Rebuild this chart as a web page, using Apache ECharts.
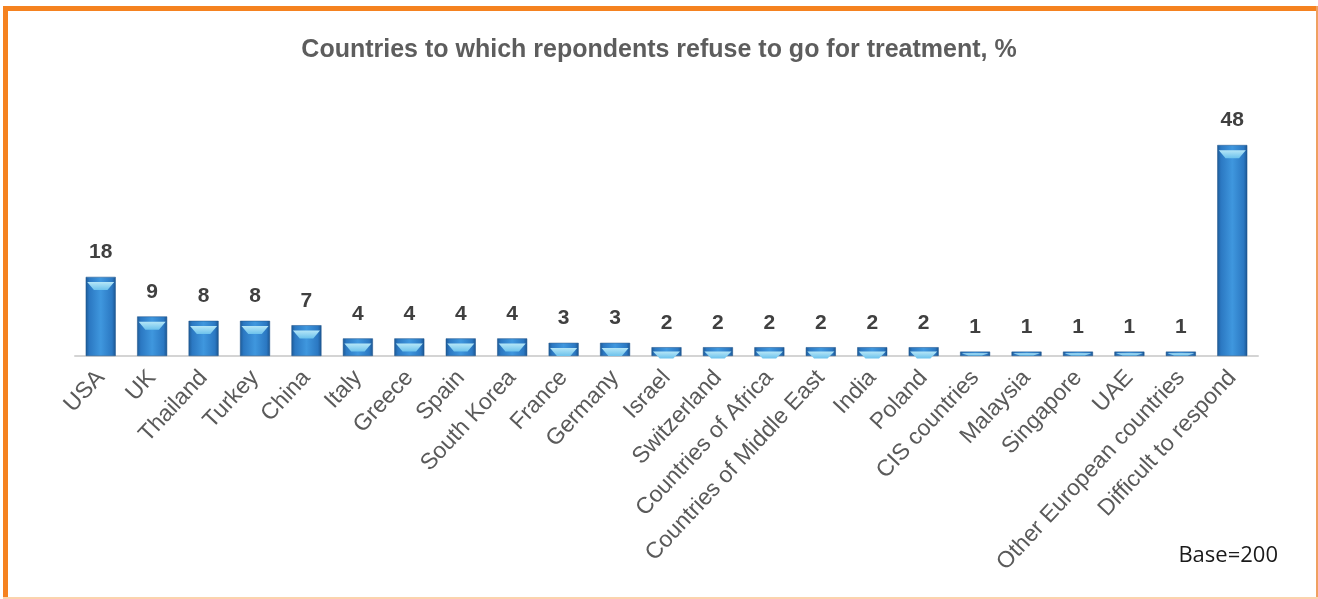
<!DOCTYPE html>
<html>
<head>
<meta charset="utf-8">
<script src="https://cdn.jsdelivr.net/npm/echarts@6/dist/echarts.min.js"></script>
<style>
  html, body { margin: 0; padding: 0; background: #fff; }
  #frame { position: absolute; left: 0; top: 0; width: 1318px; height: 599px; }
  .edge { position: absolute; }
  #chart { position: absolute; left: 0; top: 0; width: 1318px; height: 599px; }
</style>
</head>
<body>
<div id="frame">
  <div class="edge" style="left:3px; top:6px; width:1315px; height:5px; background:#f58220;"></div>
  <div class="edge" style="left:3px; top:6px; width:5px; height:593px; background:#f58220;"></div>
  <div class="edge" style="left:1316px; top:6px; width:2px; height:593px; background:#f0a060;"></div>
  <div class="edge" style="left:3px; top:597px; width:1315px; height:2px; background:#fbd3ad;"></div>
</div>
<div id="chart"></div>
<script>
// Survey answers: countries respondents would not go to for treatment
const titleText = 'Countries to which repondents refuse to go for treatment, %';
const categories = [
  'USA', 'UK', 'Thailand', 'Turkey', 'China', 'Italy', 'Greece', 'Spain',
  'South Korea', 'France', 'Germany', 'Israel', 'Switzerland',
  'Countries of Africa', 'Countries of Middle East', 'India', 'Poland',
  'CIS countries', 'Malaysia', 'Singapore', 'UAE',
  'Other European countries', 'Difficult to respond'
];
const shares = [18, 9, 8, 8, 7, 4, 4, 4, 4, 3, 3, 2, 2, 2, 2, 2, 2, 1, 1, 1, 1, 1, 48];
const baseNote = 'Base=200';

const chart = echarts.init(document.getElementById('chart'), null, { renderer: 'canvas' });

const gridTop = 145, gridBottom = 243;
const plotHeight = 599 - gridTop - gridBottom;
const yMax = 48;

// shaded cylinder body
const bodyFill = new echarts.graphic.LinearGradient(0, 0, 1, 0, [
  { offset: 0, color: '#1d5a96' },
  { offset: 0.12, color: '#2b78c2' },
  { offset: 0.5, color: '#3f97de' },
  { offset: 0.88, color: '#2b78c2' },
  { offset: 1, color: '#1b5590' }
]);

// light cap at the top of each bar, shrunk for short bars
const capData = shares.map(v => {
  const h = v / yMax * plotHeight;
  const capH = Math.max(1, Math.min(8, h - 2));
  return { value: v, symbolSize: [27, capH], symbolOffset: [0, '65%'] };
});

chart.setOption({
  animation: false,
  title: {
    text: titleText,
    left: 'center',
    top: 33,
    textStyle: {
      fontFamily: 'Liberation Sans, Arial, sans-serif',
      fontSize: 25,
      fontWeight: 'bold',
      color: '#5d5d5d'
    }
  },
  grid: { left: 75, right: 60, top: gridTop, bottom: gridBottom },
  xAxis: {
    type: 'category',
    data: categories,
    axisLine: { lineStyle: { color: '#d4d4d4', width: 2 } },
    axisTick: { show: false },
    axisLabel: {
      interval: 0,
      rotate: 47,
      margin: 18,
      fontFamily: 'Liberation Sans, Arial, sans-serif',
      fontSize: 23,
      color: '#5a5a5a'
    }
  },
  yAxis: {
    type: 'value',
    min: 0,
    max: yMax,
    show: false
  },
  series: [
    {
      type: 'bar',
      data: shares,
      barWidth: 30,
      itemStyle: { color: bodyFill, borderColor: '#1a5088', borderWidth: 0.5 },
      label: {
        show: true,
        position: 'top',
        distance: 14,
        fontFamily: 'Liberation Sans, Arial, sans-serif',
        fontSize: 21,
        fontWeight: 'bold',
        color: '#404040'
      },
      z: 2
    },
    {
      type: 'pictorialBar',
      data: capData,
      symbol: 'path://M0,0 L10,0 L7.5,4 L2.5,4 Z',
      symbolPosition: 'end',
      symbolRepeat: false,
      barGap: '-100%',
      itemStyle: {
        color: new echarts.graphic.LinearGradient(0, 0, 0, 1, [
          { offset: 0, color: '#b5e6f7' },
          { offset: 1, color: '#6cc2ec' }
        ])
      },
      silent: true,
      z: 3
    }
  ],
  graphic: [
    {
      type: 'text',
      right: 40,
      top: 545,
      style: {
        text: baseNote,
        fontFamily: 'Open Sans, Calibri, sans-serif',
        fontSize: 22,
        fill: '#1a1a1a'
      }
    }
  ]
});
</script>
</body>
</html>
